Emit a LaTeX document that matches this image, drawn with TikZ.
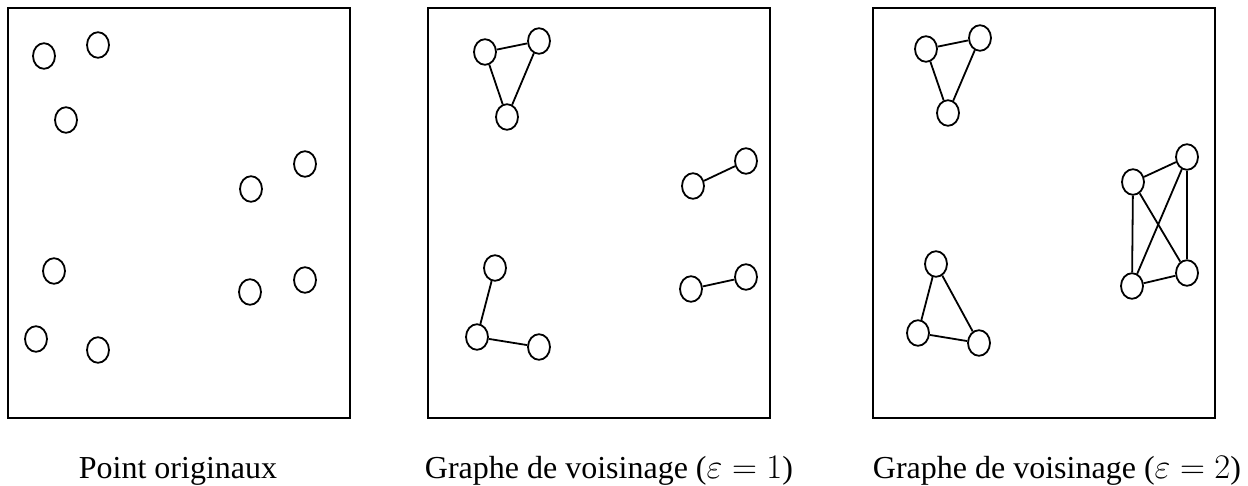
\documentclass[tikz,border=0pt]{standalone}
\usepackage{amsmath}
\usepackage{fontspec}
\setmainfont{Liberation Serif}
\usetikzlibrary{shapes.geometric}

\begin{document}
\begin{tikzpicture}[x=0.5pt, y=-0.5pt,
    cadre/.style={draw, line width=1pt},
    pt/.style={draw, ellipse, line width=0.9pt, minimum width=11pt, minimum height=12.8pt, inner sep=0pt},
    arete/.style={line width=0.9pt},
    legende/.style={anchor=base, font=\fontsize{16}{19}\selectfont},
]
\useasboundingbox (0,0) rectangle (1248,486);

% Points originaux
\draw[cadre] (8,8) rectangle (350,418);
\node[pt] (a1) at (44,56)   {};
\node[pt] (a2) at (98,45)   {};
\node[pt] (a3) at (66,120)  {};
\node[pt] (a4) at (305,164) {};
\node[pt] (a5) at (251,189) {};
\node[pt] (a6) at (54,271)  {};
\node[pt] (a7) at (305,280) {};
\node[pt] (a8) at (250,292) {};
\node[pt] (a9) at (36,339)  {};
\node[pt] (a10) at (98,350) {};
\node[legende] (leg1) at (178,478) {Point originaux};

% Graphe de voisinage, eps = 1
\draw[cadre] (428,8) rectangle (770,418);
\node[pt] (b1) at (485,52)  {};
\node[pt] (b2) at (539,41)  {};
\node[pt] (b3) at (507,117) {};
\node[pt] (b4) at (746,161) {};
\node[pt] (b5) at (693,186) {};
\node[pt] (b6) at (495,268) {};
\node[pt] (b7) at (746,277) {};
\node[pt] (b8) at (691,289) {};
\node[pt] (b9) at (477,337) {};
\node[pt] (b10) at (539,347) {};
\node[legende] (leg2) at (609,478) {Graphe de voisinage ($\varepsilon = 1$)};

\draw[arete] (b1) -- (b2);
\draw[arete] (b1) -- (b3);
\draw[arete] (b2) -- (b3);
\draw[arete] (b5) -- (b4);
\draw[arete] (b6) -- (b9);
\draw[arete] (b9) -- (b10);
\draw[arete] (b8) -- (b7);

% Graphe de voisinage, eps = 2
\draw[cadre] (873,8) rectangle (1215,418);
\node[pt] (c1) at (926,49)   {};
\node[pt] (c2) at (980,38)   {};
\node[pt] (c3) at (948,113)  {};
\node[pt] (c4) at (1187,157) {};
\node[pt] (c5) at (1133,182) {};
\node[pt] (c6) at (936,264)  {};
\node[pt] (c7) at (1187,273) {};
\node[pt] (c8) at (1132,286) {};
\node[pt] (c9) at (918,333)  {};
\node[pt] (c10) at (979,343) {};
\node[legende] (leg3) at (1057,478) {Graphe de voisinage ($\varepsilon = 2$)};

\draw[arete] (c1) -- (c2);
\draw[arete] (c1) -- (c3);
\draw[arete] (c2) -- (c3);
\draw[arete] (c6) -- (c9);
\draw[arete] (c9) -- (c10);
\draw[arete] (c6) -- (c10);
\draw[arete] (c5) -- (c4);
\draw[arete] (c5) -- (c8);
\draw[arete] (c5) -- (c7);
\draw[arete] (c4) -- (c7);
\draw[arete] (c4) -- (c8);
\draw[arete] (c8) -- (c7);

\end{tikzpicture}
\end{document}
